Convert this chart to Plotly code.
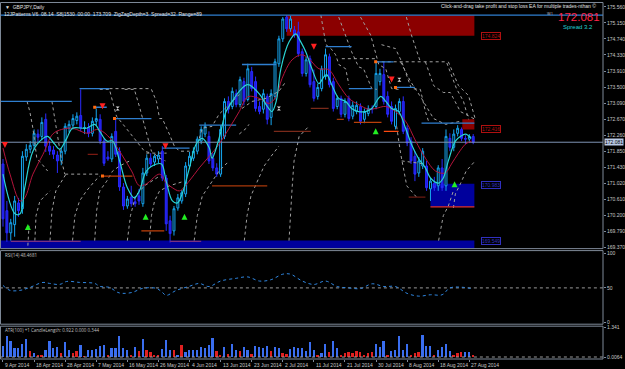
import plotly.graph_objects as go

# ---------------- data ----------------
date_labels = ["9 Apr 2014", "18 Apr 2014", "28 Apr 2014", "7 May 2014", "16 May 2014",
               "26 May 2014", "4 Jun 2014", "13 Jun 2014", "23 Jun 2014", "2 Jul 2014",
               "11 Jul 2014", "21 Jul 2014", "30 Jul 2014", "8 Aug 2014", "18 Aug 2014",
               "27 Aug 2014"]
date_idx = [0, 8, 16, 24, 32, 40, 48, 56, 64, 72, 80, 88, 96, 104, 112, 120]

opens = [171.52, 170.32, 169.75, 169.96, 170.52, 170.37, 171.70, 171.90, 172.00, 172.29,
         172.23, 172.67, 171.98, 171.88, 171.75, 171.60, 171.85, 172.44, 172.52, 172.64,
         172.77, 172.44, 172.46, 172.31, 172.62, 172.67, 172.11, 171.70, 171.65, 172.36,
         171.85, 170.93, 170.44, 170.67, 170.55, 170.70, 170.50, 171.29, 171.67, 171.57,
         171.65, 171.85, 171.16, 170.06, 169.80, 170.39, 170.57, 170.75, 171.47, 171.67,
         171.85, 172.11, 172.29, 172.23, 171.67, 171.42, 171.26, 172.23, 173.13, 173.00,
         173.33, 173.05, 173.64, 173.18, 173.90, 173.64, 173.00, 172.93, 173.26, 172.72,
         173.26, 174.10, 174.74, 175.30, 175.00, 174.97, 174.92, 174.41, 173.85, 174.23,
         173.64, 173.26, 173.46, 173.77, 174.28, 173.64, 173.00, 173.21, 172.80, 173.21,
         172.75, 172.87, 173.00, 172.67, 172.82, 172.95, 173.00, 173.64, 173.82, 173.26,
         173.00, 172.49, 172.87, 173.13, 172.44, 172.11, 171.72, 171.29, 171.47, 171.47,
         170.88, 171.03, 170.96, 171.42, 170.96, 172.18, 171.95, 172.31, 172.41, 172.18,
         172.16, 172.23]
highs = [171.65, 170.57, 170.11, 170.70, 170.65, 171.85, 172.03, 172.11, 172.41, 172.41,
         172.72, 172.82, 172.11, 171.98, 171.85, 171.93, 172.57, 172.64, 172.80, 172.85,
         173.44, 172.62, 172.57, 172.72, 172.95, 172.80, 172.18, 171.85, 172.31, 172.69,
         171.95, 171.03, 170.70, 170.96, 170.70, 170.88, 171.42, 171.77, 171.80, 171.77,
         171.85, 171.98, 171.24, 170.19, 170.44, 170.75, 170.85, 171.57, 171.83, 171.95,
         172.23, 172.49, 172.59, 172.36, 171.80, 171.54, 172.52, 173.21, 173.26, 173.49,
         173.44, 173.77, 173.74, 174.10, 174.02, 173.77, 173.13, 173.44, 173.33, 173.44,
         174.23, 174.82, 175.30, 175.35, 175.33, 175.07, 175.18, 174.49, 174.28, 174.31,
         173.95, 173.59, 174.05, 174.49, 174.36, 173.74, 173.28, 173.28, 173.21, 173.28,
         173.13, 173.13, 173.08, 172.95, 173.03, 173.03, 174.15, 173.97, 174.15, 173.39,
         173.13, 173.05, 173.21, 173.26, 172.52, 172.21, 171.85, 171.70, 171.93, 171.60,
         171.16, 171.19, 171.49, 171.65, 172.41, 172.31, 172.41, 172.52, 172.46, 172.26,
         172.29, 172.29]
lows = [169.91, 169.52, 169.55, 169.65, 170.16, 170.24, 171.60, 171.80, 171.88, 172.08,
        172.13, 171.83, 171.75, 171.65, 171.29, 171.49, 171.77, 172.34, 172.41, 172.54,
        172.36, 172.29, 172.21, 172.23, 172.52, 172.03, 171.47, 171.60, 171.57, 171.70,
        170.83, 170.34, 170.37, 170.42, 170.42, 170.47, 170.42, 171.21, 171.44, 171.47,
        171.54, 171.08, 169.80, 169.50, 169.68, 170.32, 170.50, 170.67, 171.39, 171.60,
        171.77, 172.03, 172.21, 171.52, 171.34, 171.19, 171.19, 172.16, 172.82, 172.93,
        172.98, 172.98, 173.03, 173.13, 173.39, 172.87, 172.80, 172.82, 172.54, 172.52,
        173.18, 174.02, 174.66, 174.92, 174.92, 174.77, 174.28, 173.77, 173.77, 173.49,
        173.13, 173.18, 173.39, 173.69, 173.49, 172.87, 172.93, 172.72, 172.72, 172.62,
        172.67, 172.80, 172.54, 172.57, 172.75, 172.82, 172.93, 173.54, 173.05, 172.72,
        172.54, 172.41, 172.80, 172.29, 171.98, 171.52, 171.08, 171.19, 171.39, 170.83,
        170.57, 170.83, 170.83, 170.83, 170.83, 171.85, 171.85, 172.23, 172.11, 172.03,
        172.06, 172.03]
closes = [170.11, 169.75, 170.01, 170.57, 170.32, 171.72, 171.90, 172.00, 172.31, 172.21,
          172.59, 171.98, 171.85, 171.77, 171.60, 171.85, 172.49, 172.54, 172.69, 172.75,
          172.44, 172.46, 172.31, 172.62, 172.69, 172.11, 171.54, 171.65, 172.23, 171.77,
          170.93, 170.44, 170.62, 170.50, 170.50, 170.57, 171.29, 171.67, 171.52, 171.72,
          171.75, 171.16, 169.98, 169.73, 170.37, 170.65, 170.78, 171.47, 171.72, 171.85,
          172.16, 172.41, 172.49, 171.60, 171.42, 171.26, 172.41, 173.13, 172.93, 173.39,
          173.05, 173.69, 173.13, 173.97, 173.46, 172.95, 172.87, 173.33, 172.67, 173.33,
          174.15, 174.74, 175.25, 175.00, 175.25, 174.84, 174.36, 173.85, 174.20, 173.56,
          173.21, 173.49, 173.97, 174.33, 173.56, 172.95, 173.21, 172.80, 173.13, 172.69,
          173.03, 173.03, 172.62, 172.87, 172.95, 172.93, 173.85, 173.85, 173.13, 172.80,
          172.62, 172.95, 173.13, 172.36, 172.06, 171.60, 171.26, 171.60, 171.85, 170.91,
          171.08, 170.91, 171.42, 170.91, 172.23, 171.95, 172.29, 172.44, 172.18, 172.16,
          172.23, 172.08]

# fast (cyan) and slow (red) moving averages: (bar index, value)
fast_idx = [0, 3.1, 4.4, 5.6, 7.7, 10.3, 11.5, 13.3, 14.6, 16.4, 17.9, 21.5, 23.6, 24.9, 26.7,
            28.2, 30, 32, 33.8, 35.1, 36.9, 39.5, 40.8, 42, 43.6, 44.9, 46.2, 47.9, 49.7,
            51.3, 53.1, 53.8, 55.6, 57.4, 59, 60.8, 63, 65.9, 67.7, 69.2, 70.3, 71.5, 73.6,
            75.4, 76.2, 77.9, 79.5, 81.3, 82.6, 83.3, 84.6, 86.4, 88.2, 89.7, 91.5, 93.3,
            94.9, 97.2, 98.5, 100, 101.8, 103.6, 105.1, 106.9, 108.7, 110, 112.1, 113.3,
            114.6, 116.4, 117.7, 119, 120.5]
fast_val = [171.26, 170.24, 170.24, 170.91, 171.85, 172.18, 172.23, 172.03, 171.90, 172.18,
            172.44, 172.44, 172.54, 172.36, 172.11, 172.11, 171.60, 170.91, 170.65, 170.83,
            171.34, 171.52, 171.52, 171.08, 170.57, 170.52, 170.78, 171.39, 172.03, 172.18,
            171.93, 171.67, 172.18, 172.87, 173.13, 173.39, 173.56, 173.33, 173.05, 172.87,
            173.13, 173.97, 174.66, 174.87, 174.74, 174.41, 173.97, 173.59, 173.77, 173.82,
            173.56, 173.21, 173.13, 172.95, 172.87, 172.87, 172.95, 173.26, 173.13, 172.95,
            172.87, 172.44, 172.03, 171.67, 171.42, 171.16, 171.03, 171.16, 171.60, 172.11,
            172.23, 172.29, 172.18]
slow_idx = [0, 1.8, 4.4, 5.6, 7.7, 10.3, 12.8, 15.1, 17.9, 21.8, 24.1, 25.6, 28.2, 30.5, 33.1,
            35.1, 36.9, 40.3, 42, 43.6, 45.4, 47.9, 50.5, 53.1, 55.6, 58.2, 60.8, 63, 65.9,
            68.5, 70.3, 71.8, 74.4, 76.9, 78.7, 81.3, 83.8, 86.4, 89, 91.5, 94.1, 95.9, 98.5,
            101, 103.6, 106.2, 108.7, 111.3, 113.8, 115.4, 117.2, 119, 120.5]
slow_val = [171.93, 171.26, 170.57, 170.65, 171.26, 171.77, 172.29, 172.41, 172.44, 172.31,
            172.41, 172.36, 172.11, 171.77, 171.34, 170.96, 171.01, 171.26, 171.03, 170.91,
            170.83, 171.08, 171.42, 171.72, 172.03, 172.44, 172.87, 173.25, 173.21, 173.08,
            173.26, 173.72, 174.20, 174.33, 174.23, 173.97, 173.95, 173.56, 173.21, 173.05,
            172.93, 172.95, 173.00, 172.87, 172.62, 172.11, 171.67, 171.34, 171.29, 171.52,
            171.80, 172.03, 172.11]

# resistance (blue) and support (orange/red) segments: (start idx, end idx, price)
blue_seg = [(-0.8, 17.7, 173.13), (19.7, 27.4, 173.46), (23.6, 26.7, 172.98), (28.7, 38.2, 172.69),
            (41.0, 48.0, 171.93), (50.5, 60.0, 172.52), (61.5, 70.3, 174.08), (83.0, 89.7, 174.54),
            (95.9, 100.5, 174.15), (89.0, 94.9, 173.46), (101.0, 106.0, 173.49),
            (107.7, 121.3, 172.57), (-0.8, 154.4, 175.35)]
red_seg = [(21.8, 24.4, 171.77, "#7a1a12"), (25.6, 33.3, 171.21, "#c0400a"),
           (35.6, 41.5, 169.80, "#c0400a"), (53.8, 68.0, 170.96, "#a8380a"),
           (69.7, 79.2, 172.36, "#7a2a1a"), (79.2, 83.8, 172.95, "#7a2a1a"),
           (85.9, 87.7, 172.67, "#a8380a"), (90.3, 97.4, 172.59, "#b8400a"),
           (98.0, 101.8, 172.36, "#ff4a10"), (104.4, 108.7, 170.67, "#6b1a12"),
           (110.0, 121.3, 170.42, "#e03030"), (2.0, 20.0, 169.53, "#7a3080"),
           (43.0, 51.0, 169.53, "#7a3080")]

# dotted envelope / channel lines (bar index list, price list)
dot_lines = [
    ([16.0, 24.9], [171.26, 171.26]),
    ([27.4, 38.2], [173.46, 173.46]),
    ([87.2, 95.9], [174.23, 174.23]),
    ([102.6, 108.7], [171.60, 171.52]),
    ([36.9, 42.1], [171.80, 171.80]),
    ([95.9, 114.1, 116.7, 118.5, 119.8], [174.15, 174.15, 173.46, 173.13, 172.67]),
    ([102.3, 104.9, 107.7, 110.8, 113.9, 117.7], [174.15, 173.64, 173.21, 172.69, 172.54, 172.62]),
    ([108.7, 110.8, 113.3, 115.1, 117.7, 121.5], [174.15, 173.54, 173.36, 173.36, 172.87, 172.67]),
    ([114.6, 117.2, 119.8, 121.5], [174.15, 173.54, 173.28, 172.69]),
    ([101.3, 102.3, 103.9, 106.4], [172.49, 171.80, 170.96, 170.67]),
    ([115.9, 116.4, 117.7, 119.2, 121.5], [170.39, 170.75, 171.01, 171.34, 171.60]),
    ([6.2, 6.9, 7.7, 8.7, 10.0, 11.5], [173.13, 172.87, 172.44, 171.67, 171.52, 171.34]),
    ([12.6, 13.1, 14.1, 15.1, 15.9], [173.13, 172.82, 172.11, 171.60, 171.26]),
    ([24.9, 27.4, 28.2, 29.2, 31.3, 33.8, 36.4, 38.2],
     [173.44, 173.44, 173.13, 172.75, 172.49, 172.18, 171.85, 171.80]),
    ([31.3, 33.8, 35.1, 36.7, 38.2, 40.3, 41.8],
     [173.44, 173.44, 173.00, 172.41, 171.85, 171.67, 171.60]),
    ([38.2, 39.5, 40.3, 41.0, 42.8, 44.1, 45.4, 48.0],
     [173.44, 173.13, 172.69, 172.69, 172.29, 171.98, 171.85, 171.85]),
    ([81.8, 82.6, 83.1, 84.4, 85.6, 86.4, 88.2, 89.0],
     [175.35, 174.84, 174.59, 174.49, 174.33, 174.08, 173.97, 173.56]),
    ([86.4, 88.2, 89.7, 91.5, 92.8, 94.9, 96.2],
     [175.30, 174.84, 174.41, 174.02, 173.97, 173.46, 173.44]),
    ([92.0, 94.6, 96.7, 98.5, 100.0, 101.8],
     [175.30, 174.84, 174.08, 173.97, 173.46, 173.44]),
    ([97.4, 101.0, 102.6, 105.1, 107.4, 108.7, 109.5],
     [174.59, 174.49, 174.15, 173.46, 173.44, 172.87, 172.62]),
    ([103.8, 105.1, 107.4], [175.30, 174.84, 174.15]),
    ([6.4, 6.7], [169.42, 169.93]),
    ([8.2, 8.5, 9.5, 10.8, 12.1], [169.55, 170.19, 170.57, 170.70, 170.83]),
    ([12.1, 12.6, 13.6, 15.1, 16.2], [169.55, 170.32, 170.83, 171.08, 171.26]),
    ([17.9, 18.5, 19.7, 21.5, 23.6, 24.9], [169.55, 170.19, 170.57, 170.83, 171.08, 171.21]),
    ([23.6, 24.1, 24.9, 26.7, 28.2, 30.0, 32.6],
     [169.55, 170.32, 170.83, 171.08, 171.34, 171.47, 171.60]),
    ([32.0, 32.8, 34.1, 36.4, 40.3], [169.55, 170.19, 170.70, 170.96, 171.21]),
    ([37.7, 38.2, 39.0, 40.3, 42.8, 46.7], [169.55, 170.19, 170.57, 170.83, 170.96, 171.08]),
    ([49.2, 50.0, 51.3, 53.1, 55.6, 58.2], [169.55, 170.19, 170.70, 170.96, 171.34, 171.60]),
    ([62.1, 62.8, 63.8, 65.4, 67.2, 69.0, 71.0],
     [169.55, 170.19, 170.70, 171.08, 171.47, 171.72, 171.98]),
    ([73.6, 74.1, 74.4, 74.9, 76.2, 78.7], [169.55, 170.57, 170.91, 171.60, 172.23, 172.49]),
    ([61.5, 64.1, 67.7, 71.0, 72.8], [172.95, 173.13, 173.21, 173.39, 173.64]),
    ([50.5, 51.3, 53.8, 55.6, 59.0, 60.8], [172.18, 172.44, 172.49, 172.80, 173.13, 173.31]),
    ([60.8, 62.6, 63.3], [172.29, 172.44, 172.54]),
    ([112.1, 113.3, 114.6, 115.9], [169.55, 170.19, 170.44, 170.83]),
]

# arrows and markers
down_arrows = [(0.5, 171.93), (25.6, 172.93), (41.8, 171.90), (80.0, 174.46), (100.0, 173.62)]
up_arrows = [(6.4, 169.98), (36.7, 170.24), (46.7, 170.24), (95.9, 172.44), (116.2, 171.08)]
orange_dots = [(23.6, 172.98), (25.6, 171.21), (28.7, 172.69), (95.9, 174.15), (101.0, 173.49)]
hour_marks = [(29.5, 172.95), (71.0, 172.95), (102.0, 173.69)]

# zones: (x0 idx, x1 idx, low, high, fill)
zones = [(73.0, 121.3, 174.82, 175.35, "#8b0000"),
         (118.2, 121.3, 172.41, 172.67, "#8b0000"),
         (110.0, 121.3, 170.42, 171.01, "#00009c"),
         (-0.8, 121.3, 169.30, 169.55, "#00009c")]
zone_labels = [(174.824, "174.824", "#b01010"), (172.416, "172.416", "#b01010"),
               (170.983, "170.983", "#3030c0"), (169.549, "169.549", "#3030c0")]

price_ticks = [175.560, 175.150, 174.740, 174.330, 173.910, 173.500, 173.090, 172.670,
               172.260, 171.850, 171.430, 171.020, 170.610, 170.200, 169.790, 169.370]
bid = 172.081

rsi_idx = [0, 1.8, 4.4, 6.9, 10.3, 12, 14.6, 16.4, 19.7, 23.6, 24.9, 27.4, 29.5, 30.8, 33.3,
           35.9, 39.5, 41, 42, 44.6, 47.9, 50.5, 53, 56, 60, 63, 66, 69, 72, 74, 77, 80, 83,
           86, 89, 92, 95, 98, 101, 104, 107, 110, 113, 115, 118, 121]
rsi_val = [53.6, 46.4, 46.4, 50.7, 58.0, 56.5, 55.1, 59.4, 58.0, 56.5, 52.2, 50.7, 43.5, 42.0,
           43.5, 49.3, 49.3, 43.5, 39.1, 46.4, 52.2, 56.5, 52.0, 60.0, 64.0, 66.0, 60.0, 62.0,
           70.0, 70.0, 60.0, 55.0, 60.0, 52.0, 50.0, 49.0, 56.0, 52.0, 52.0, 42.0, 38.0, 40.0,
           40.0, 50.0, 51.0, 48.47]

atr_val = [0.51, 0.93, 0.70, 0.40, 0.41, 0.60, 0.82, 0.26, 0.19, 0.11, 0.11, 0.33, 0.70, 0.41,
           0.45, 0.19, 0.66, 0.30, 0.19, 0.26, 0.55, 0.04, 0.33, 0.33, 0.37, 0.48, 0.55, 0.11,
           0.41, 0.41, 0.95, 0.41, 0.33, 0.08, 0.43, 0.26, 0.82, 0.30, 0.22, 0.08, 0.11, 0.37,
           0.78, 0.30, 0.33, 0.09, 0.55, 0.22, 0.33, 0.33, 0.30,
           0.45, 0.40, 0.55, 0.85, 0.25, 0.10, 0.45, 0.15, 0.60, 0.30, 0.25, 0.45, 0.30, 0.15,
           0.50, 0.45, 0.40, 0.50, 0.25, 0.45, 0.40, 0.20, 0.12, 0.35, 0.45, 0.40,
           0.41, 0.26, 0.66, 0.33, 0.07, 0.16, 0.60, 0.21, 0.70, 0.41, 0.07, 0.19, 0.21, 0.16,
           0.26, 0.24, 0.11, 0.19, 0.21, 0.60, 0.45, 0.70, 0.07, 0.26, 0.33, 0.95, 0.33, 0.56,
           0.07, 0.19, 0.21, 0.98, 0.48, 0.48, 0.07, 0.33, 0.45, 0.56, 0.26, 0.11, 0.16, 0.21,
           0.21, 0.21, 0.05]
atr_up = "BBBBBBBRBRRBBBBRBBRRBRBBBBBRBBBBBRBRBRRRRBBBRBRBBBB" \
         "BBBBRRBRBBRBBRBBBBRBBRRBBB" \
         "BBBBRBBRBBRRRRRRRRRBBBRBBBBBRRRBBBRBBBBRRRBBR"

# ---------------- figure ----------------
PW, PH = 605.0, 359.0
def px(x):
    return x / PW
def py(y):
    return (PH - y) / PH

fig = go.Figure()
N = len(closes)
xs = list(range(N))

for x0, x1, lo, hi, col in zones:
    fig.add_shape(type="rect", xref="x", yref="y", x0=x0, x1=x1, y0=lo, y1=hi,
                  fillcolor=col, line=dict(width=0), layer="below")

for xseg, yseg in dot_lines:
    fig.add_trace(go.Scatter(x=xseg, y=yseg, mode="lines", yaxis="y",
                             line=dict(color="#a0a0a0", width=1, dash="dot"),
                             hoverinfo="skip", showlegend=False))

for x0, x1, p in blue_seg:
    fig.add_trace(go.Scatter(x=[x0, x1], y=[p, p], mode="lines", yaxis="y",
                             line=dict(color="#2f7fd0", width=1.3),
                             hoverinfo="skip", showlegend=False))
for x0, x1, p, c in red_seg:
    fig.add_trace(go.Scatter(x=[x0, x1], y=[p, p], mode="lines", yaxis="y",
                             line=dict(color=c, width=1.3),
                             hoverinfo="skip", showlegend=False))

fig.add_trace(go.Scatter(x=[-0.8, 154.4], y=[bid, bid], mode="lines", yaxis="y",
                         line=dict(color="#7f93b5", width=1), hoverinfo="skip",
                         showlegend=False))

fig.add_trace(go.Candlestick(
    x=xs, open=opens, high=highs, low=lows, close=closes, yaxis="y",
    increasing=dict(line=dict(color="#16a6f0", width=1), fillcolor="#000000"),
    decreasing=dict(line=dict(color="#2a2aff", width=1), fillcolor="#1c1ce0"),
    whiskerwidth=0, showlegend=False, hoverinfo="skip"))

fig.add_trace(go.Scatter(x=slow_idx, y=slow_val, mode="lines", yaxis="y",
                         line=dict(color="#b4143c", width=1, shape="spline"),
                         hoverinfo="skip", showlegend=False))
fig.add_trace(go.Scatter(x=fast_idx, y=fast_val, mode="lines", yaxis="y",
                         line=dict(color="#2ad4d4", width=1.2, shape="spline"),
                         hoverinfo="skip", showlegend=False))

fig.add_trace(go.Scatter(x=[a[0] for a in down_arrows], y=[a[1] for a in down_arrows],
                         mode="markers", yaxis="y",
                         marker=dict(symbol="arrow-down", size=6, color="#ff2020"),
                         hoverinfo="skip", showlegend=False))
fig.add_trace(go.Scatter(x=[a[0] for a in up_arrows], y=[a[1] for a in up_arrows],
                         mode="markers", yaxis="y",
                         marker=dict(symbol="arrow-up", size=6, color="#22ee22"),
                         hoverinfo="skip", showlegend=False))
fig.add_trace(go.Scatter(x=[a[0] for a in orange_dots], y=[a[1] for a in orange_dots],
                         mode="markers", yaxis="y",
                         marker=dict(symbol="square", size=3, color="#ff6a10"),
                         hoverinfo="skip", showlegend=False))
fig.add_trace(go.Scatter(x=[a[0] for a in hour_marks], y=[a[1] for a in hour_marks],
                         mode="markers", yaxis="y",
                         marker=dict(symbol="hourglass", size=4, color="#d8d8d8"),
                         hoverinfo="skip", showlegend=False))

# RSI panel
fig.add_trace(go.Scatter(x=[-0.8, 154.4], y=[50, 50], mode="lines", yaxis="y2",
                         line=dict(color="#9a9a9a", width=1, dash="dot"),
                         hoverinfo="skip", showlegend=False))
fig.add_trace(go.Scatter(x=rsi_idx, y=rsi_val, mode="lines", yaxis="y2",
                         line=dict(color="#2f86e0", width=1, dash="dot", shape="spline"),
                         hoverinfo="skip", showlegend=False))

# ATR panel
atr_cols = ["#3a6ef0" if c == "B" else "#e02020" for c in atr_up]
fig.add_trace(go.Bar(x=xs, y=atr_val, yaxis="y3", marker=dict(color=atr_cols, line=dict(width=0)),
                     width=0.45, hoverinfo="skip", showlegend=False))
fig.add_trace(go.Scatter(x=[-0.8, 154.4], y=[0.0064, 0.0064], mode="lines", yaxis="y3",
                         line=dict(color="#9a9a9a", width=1, dash="dot"),
                         hoverinfo="skip", showlegend=False))

axcol = "#7f8a99"
tickfont = dict(family="Liberation Sans, Arial", size=5, color="#c8c8c8")
fig.update_layout(
    width=625, height=369, margin=dict(l=0, r=20, t=0, b=10),
    paper_bgcolor="#000000", plot_bgcolor="#000000",
    bargap=0,
    xaxis=dict(range=[-0.77, 154.4], showgrid=False, zeroline=False, anchor="y3",
               tickvals=date_idx, ticks="outside", ticklen=2, tickcolor=axcol,
               showticklabels=False, rangeslider=dict(visible=False), showline=False),
    yaxis=dict(domain=[py(248), 1.0], range=[169.344, 175.688], side="right",
               tickvals=price_ticks, ticktext=["%.3f" % v for v in price_ticks],
               ticks="outside", ticklen=2, tickcolor=axcol, tickfont=tickfont,
               showgrid=False, zeroline=False, showline=False),
    yaxis2=dict(domain=[py(324), py(250)], range=[-2.9, 104.35], side="right", anchor="x",
                tickvals=[100, 50, 0], ticktext=["100", "50", "0"], ticks="outside",
                ticklen=2, tickcolor=axcol, tickfont=tickfont,
                showgrid=False, zeroline=False, showline=False),
    yaxis3=dict(domain=[0.0, py(326)], range=[-0.0826, 1.3855], side="right", anchor="x",
                tickvals=[1.341, 0.0064], ticktext=["1.341", "0.0064"], ticks="outside",
                ticklen=2, tickcolor=axcol, tickfont=tickfont,
                showgrid=False, zeroline=False, showline=False),
    showlegend=False,
)

for y0, y1 in [(248, 0.5), (324, 250), (359, 326)]:
    fig.add_shape(type="rect", xref="paper", yref="paper", x0=px(0.5), x1=1.0,
                  y0=py(y0), y1=py(y1), line=dict(color=axcol, width=1), layer="above")

anns = []
for i, lab in zip(date_idx, date_labels):
    anns.append(dict(x=i, y=0, xref="x", yref="paper", text=lab, showarrow=False,
                     xanchor="left", yanchor="top", yshift=-1,
                     font=dict(family="Liberation Sans, Arial", size=5, color="#c8c8c8")))
for p, t, c in zone_labels:
    anns.append(dict(x=123, y=p, xref="x", yref="y", text=t, showarrow=False,
                     xanchor="left", yanchor="middle", bordercolor=c, borderwidth=1, borderpad=0,
                     font=dict(family="Liberation Sans, Arial", size=5, color=c)))
anns.append(dict(x=1.0, y=bid, xref="paper", yref="y", text="%.3f" % bid, showarrow=False,
                 xanchor="left", yanchor="middle", xshift=1, bgcolor="#b8c8e4", borderpad=0,
                 font=dict(family="Liberation Sans, Arial", size=5, color="#000000")))
txt = dict(family="Liberation Sans, Arial", size=5, color="#e0e0e0")
anns += [
    dict(x=px(3), y=py(5.5), xref="paper", yref="paper", text="▼  GBPJPY,Daily",
         showarrow=False, xanchor="left", yanchor="middle", font=txt),
    dict(x=px(2), y=py(12.5), xref="paper", yref="paper",
         text="12JPatterns V6  08.14  S8|1530  00:00  173.709  ZigZagDepth=3  Spread=32  Range=89",
         showarrow=False, xanchor="left", yanchor="middle", font=txt),
    dict(x=px(600), y=py(4.5), xref="paper", yref="paper",
         text="Click-and-drag take profit and stop loss EA for multiple trades-nthan ©",
         showarrow=False, xanchor="right", yanchor="middle", font=txt),
    dict(x=px(547), y=py(11.5), xref="paper", yref="paper", text="W1",
         showarrow=False, xanchor="left", yanchor="middle", font=dict(size=4, color="#c0c0c0")),
    dict(x=px(581), y=py(15), xref="paper", yref="paper", text="172.081",
         showarrow=False, xanchor="center", yanchor="middle",
         font=dict(family="Liberation Sans, Arial", size=11.5, color="#ff2448")),
    dict(x=px(580), y=py(25.5), xref="paper", yref="paper", text="Spread 3.2",
         showarrow=False, xanchor="center", yanchor="middle",
         font=dict(family="Liberation Sans, Arial", size=6, color="#22d0d0")),
    dict(x=px(3), y=py(254.5), xref="paper", yref="paper", text="RSI(14) 48.4681",
         showarrow=False, xanchor="left", yanchor="middle", font=dict(size=4.5, color="#c0c0c0")),
    dict(x=px(3), y=py(330), xref="paper", yref="paper",
         text="ATR(100) +1 CandleLength: 0.922 0.000 0.344",
         showarrow=False, xanchor="left", yanchor="middle", font=dict(size=4.5, color="#c0c0c0")),
]
fig.update_layout(annotations=anns)

fig.write_html("out.html")
